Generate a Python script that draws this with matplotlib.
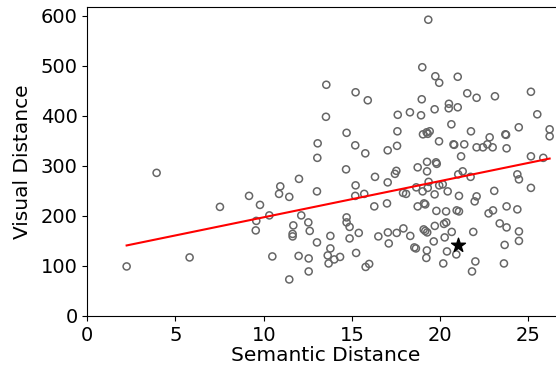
import numpy as np
import matplotlib
matplotlib.use("Agg")
import matplotlib.pyplot as plt

# ---- data ----
semantic = [2.23, 3.93, 5.80, 7.52, 9.17, 9.55, 9.58, 9.79, 10.32, 10.49,
            10.87, 10.94, 11.45, 11.45, 11.64, 11.64, 11.68, 11.98, 12.00, 12.13,
            12.53, 12.61, 12.55, 12.55, 13.04, 13.06, 13.02, 13.02, 13.53, 13.55,
            13.78, 13.78, 13.63, 13.68, 14.00, 14.33, 14.67, 14.70, 14.70, 14.70,
            14.87, 14.87, 15.19, 15.21, 15.21, 15.19, 15.70, 15.76, 15.90, 15.39,
            15.24, 15.78, 15.98, 16.27, 16.31, 16.50, 16.99, 17.03, 17.03, 17.04,
            17.09, 17.44, 17.52, 17.54, 17.56, 17.58, 17.60, 17.90, 18.07, 17.92,
            18.29, 18.31, 18.54, 18.63, 18.65, 18.73, 18.73, 18.92, 18.96, 18.99,
            19.01, 19.03, 19.24, 19.41, 19.30, 19.09, 19.16, 19.07, 19.16, 19.27,
            19.22, 19.25, 19.26, 19.26, 19.30, 19.35, 19.33, 19.64, 19.69, 19.69,
            19.70, 19.73, 19.77, 19.81, 19.79, 19.94, 19.95, 19.95, 20.15, 20.18,
            20.22, 20.35, 20.26, 20.34, 20.39, 20.43, 20.49, 20.50, 20.64, 20.66,
            20.76, 20.80, 20.92, 20.94, 21.00, 21.00, 21.03, 21.07, 21.07, 21.19,
            21.28, 21.37, 21.54, 21.73, 21.75, 21.81, 21.88, 21.96, 22.00, 22.07,
            22.07, 22.07, 22.43, 22.68, 22.75, 22.81, 22.98, 23.00, 23.07, 23.11,
            23.38, 23.62, 23.66, 23.70, 23.74, 23.77, 23.77, 23.77, 24.38, 24.38,
            24.46, 24.47, 24.47, 24.47, 25.15, 25.15, 25.15, 25.51, 25.85, 26.21,
            26.21]
visual = [99, 286, 117, 218, 240, 171, 190, 222, 201, 119,
          244, 259, 238, 73, 164, 159, 181, 120, 274, 201,
          187, 170, 115, 89, 316, 345, 249, 147, 398, 462,
          160, 135, 121, 105, 113, 118, 293, 366, 197, 187,
          178, 155, 341, 447, 261, 240, 244, 325, 431, 166,
          126, 98, 104, 219, 278, 159, 225, 331, 267, 167,
          145, 284, 290, 166, 340, 369, 402, 246, 244, 175,
          407, 160, 137, 135, 257, 297, 219, 401, 433, 497,
          249, 363, 367, 369, 364, 225, 223, 173, 170, 167,
          116, 131, 308, 289, 256, 268, 592, 149, 413, 243,
          180, 479, 307, 304, 210, 349, 466, 261, 263, 105,
          184, 187, 157, 209, 129, 249, 415, 424, 383, 168,
          343, 342, 123, 211, 478, 417, 283, 240, 209, 319,
          289, 343, 445, 278, 369, 89, 168, 229, 109, 436,
          337, 239, 337, 343, 205, 357, 337, 211, 250, 439,
          185, 105, 142, 363, 362, 335, 219, 177, 283, 213,
          377, 273, 169, 150, 448, 319, 256, 403, 316, 373,
          359]

# highlighted item
star_x = 21.03
star_y = 142

# fitted line
fit_slope = 7.24
fit_intercept = 124.8

# ---- plot ----
fig = plt.figure(figsize=(5.56, 3.76), dpi=100)
ax = fig.add_axes([0.157, 0.1596, 0.8566, 0.8226])

ax.scatter(semantic, visual, s=26, facecolors='none', edgecolors='#666666',
           linewidths=1.1, zorder=2)

xs = np.array([min(semantic), max(semantic)])
ax.plot(xs, fit_slope * xs + fit_intercept, color='red', linewidth=1.5, zorder=3)

ax.scatter([star_x], [star_y], marker='*', s=110, color='black', zorder=4)

ax.set_xlim(0, 27.0)
ax.set_ylim(0, 618)
ax.set_xticks([0, 5, 10, 15, 20, 25])
ax.set_yticks([0, 100, 200, 300, 400, 500, 600])
ax.tick_params(labelsize=14)
ax.set_xlabel("Semantic Distance", fontsize=14.5, labelpad=1)
ax.set_ylabel("Visual Distance", fontsize=14.5, labelpad=6)
ax.spines['right'].set_visible(False)

fig.savefig("out.png", dpi=100)
